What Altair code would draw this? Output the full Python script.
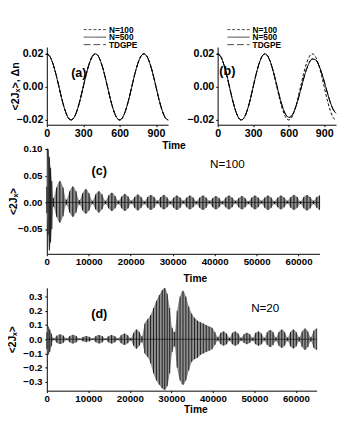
import altair as alt
import pandas as pd

FONT = "Liberation Sans"

# ---------------- panels (a) and (b) ----------------
t_ab = [0, 25, 50, 75, 100, 125, 150, 175, 200, 225, 250, 275, 300, 325, 350, 375, 400,
        425, 450, 475, 500, 525, 550, 575, 600, 625, 650, 675, 700, 725, 750, 775, 800,
        825, 850, 875, 900, 925, 950, 975, 1000]

a_n100 = [0.0200, 0.0185, 0.0141, 0.0077, 0.0000, -0.0077, -0.0141, -0.0185, -0.0200,
          -0.0185, -0.0141, -0.0077, 0.0000, 0.0077, 0.0141, 0.0185, 0.0200,
          0.0185, 0.0141, 0.0077, 0.0000, -0.0077, -0.0141, -0.0185, -0.0200,
          -0.0185, -0.0141, -0.0077, 0.0000, 0.0077, 0.0141, 0.0185, 0.0200,
          0.0185, 0.0141, 0.0077, 0.0000, -0.0077, -0.0141, -0.0185, -0.0200]
a_n500 = [0.0200, 0.0185, 0.0141, 0.0077, 0.0000, -0.0077, -0.0141, -0.0185, -0.0200,
          -0.0185, -0.0141, -0.0077, 0.0000, 0.0077, 0.0141, 0.0185, 0.0200,
          0.0185, 0.0141, 0.0077, 0.0000, -0.0077, -0.0141, -0.0185, -0.0200,
          -0.0185, -0.0141, -0.0077, 0.0000, 0.0077, 0.0141, 0.0185, 0.0200,
          0.0185, 0.0141, 0.0077, 0.0000, -0.0077, -0.0141, -0.0185, -0.0200]
a_tdgpe = [0.0200, 0.0185, 0.0141, 0.0077, 0.0000, -0.0077, -0.0141, -0.0185, -0.0200,
           -0.0185, -0.0141, -0.0077, 0.0000, 0.0077, 0.0141, 0.0185, 0.0200,
           0.0185, 0.0141, 0.0077, 0.0000, -0.0077, -0.0141, -0.0185, -0.0200,
           -0.0185, -0.0141, -0.0077, 0.0000, 0.0077, 0.0141, 0.0185, 0.0200,
           0.0185, 0.0141, 0.0077, 0.0000, -0.0077, -0.0141, -0.0185, -0.0200]

b_n100 = [0.0200, 0.0185, 0.0141, 0.0077, 0.0000, -0.0077, -0.0141, -0.0185, -0.0200,
          -0.0185, -0.0141, -0.0077, 0.0000, 0.0077, 0.0141, 0.0185, 0.0200,
          0.0185, 0.0141, 0.0077, 0.0000, -0.0077, -0.0141, -0.0185, -0.0200,
          -0.0185, -0.0141, -0.0077, 0.0000, 0.0077, 0.0141, 0.0185, 0.0200,
          0.0185, 0.0141, 0.0077, 0.0000, -0.0077, -0.0141, -0.0185, -0.0200]
b_n500 = [0.0200, 0.0185, 0.0141, 0.0077, 0.0000, -0.0077, -0.0141, -0.0185, -0.0200,
          -0.0185, -0.0141, -0.0077, 0.0000, 0.0077, 0.0141, 0.0185, 0.0200,
          0.0184, 0.0141, 0.0080, 0.0008, -0.0064, -0.0125, -0.0167, -0.0184,
          -0.0175, -0.0140, -0.0086, -0.0021, 0.0046, 0.0105, 0.0148, 0.0168,
          0.0165, 0.0138, 0.0092, 0.0033, -0.0031, -0.0090, -0.0135, -0.0160]
b_tdgpe = [0.0200, 0.0185, 0.0141, 0.0077, 0.0000, -0.0077, -0.0141, -0.0185, -0.0200,
           -0.0185, -0.0141, -0.0077, 0.0000, 0.0077, 0.0141, 0.0185, 0.0200,
           0.0184, 0.0141, 0.0080, 0.0008, -0.0064, -0.0125, -0.0168, -0.0185,
           -0.0176, -0.0141, -0.0087, -0.0021, 0.0047, 0.0106, 0.0150, 0.0170,
           0.0166, 0.0139, 0.0092, 0.0033, -0.0031, -0.0091, -0.0136, -0.0161]

SERIES = ["N=100", "N=500", "TDGPE"]
DASHES = [[3, 2], [1, 0], [7, 3]]
x_ticks_ab = [0, 300, 600, 900]
y_ticks_ab = [-0.02, 0.0, 0.02]

# ---------------- panel (c): envelope of <2Jx>, N=100 ----------------
t_c = [0, 300, 600, 900, 1200,
       1550, 2325, 3100, 3875, 4650, 5425, 6200, 6975, 7750, 8525, 9300, 10075,
       10850, 11625, 12400, 13175, 13950, 14725, 15500, 16275, 17050, 17825, 18600, 19375,
       20150, 20925, 21700, 22475, 23250, 24025, 24800, 25575, 26350, 27125, 27900, 28675,
       29450, 30225, 31000, 31775, 32550, 33325, 34100, 34875, 35650, 36425, 37200, 37975,
       38750, 39525, 40300, 41075, 41850, 42625, 43400, 44175, 44950, 45725, 46500, 47275,
       48050, 48825, 49600, 50375, 51150, 51925, 52700, 53475, 54250, 55025, 55800, 56575,
       57350, 58125, 58900, 59675, 60450, 61225, 62000, 62775,
       63550, 64325, 65000]
up_c = [0.030, 0.100, 0.085, 0.065, 0.040,
        0.008, 0.028, 0.040, 0.028, 0.005, 0.021, 0.030, 0.021, 0.004, 0.017, 0.025, 0.017,
        0.003, 0.015, 0.021, 0.015, 0.003, 0.013, 0.018, 0.012, 0.003, 0.011, 0.016, 0.011,
        0.003, 0.010, 0.015, 0.010, 0.002, 0.010, 0.014, 0.010, 0.003, 0.010, 0.014, 0.009,
        0.002, 0.009, 0.013, 0.009, 0.003, 0.009, 0.013, 0.009, 0.002, 0.009, 0.013, 0.009,
        0.003, 0.008, 0.012, 0.008, 0.002, 0.009, 0.013, 0.009, 0.003, 0.008, 0.012, 0.008,
        0.002, 0.009, 0.013, 0.009, 0.003, 0.009, 0.013, 0.009, 0.002, 0.009, 0.013, 0.009,
        0.003, 0.010, 0.014, 0.010, 0.002, 0.010, 0.014, 0.010,
        0.003, 0.010, 0.013]
lo_c = [-0.020, -0.060, -0.090, -0.075, -0.050,
        -0.008, -0.027, -0.038, -0.026, -0.004, -0.019, -0.027, -0.019, -0.004, -0.015, -0.021, -0.015,
        -0.003, -0.013, -0.019, -0.013, -0.003, -0.011, -0.016, -0.011, -0.003, -0.011, -0.016, -0.011,
        -0.002, -0.010, -0.015, -0.010, -0.003, -0.010, -0.014, -0.010, -0.002, -0.009, -0.013, -0.009,
        -0.003, -0.010, -0.014, -0.010, -0.002, -0.009, -0.013, -0.009, -0.003, -0.010, -0.014, -0.010,
        -0.002, -0.009, -0.013, -0.009, -0.003, -0.009, -0.013, -0.009, -0.002, -0.009, -0.013, -0.009,
        -0.003, -0.009, -0.013, -0.009, -0.002, -0.010, -0.014, -0.010, -0.003, -0.009, -0.013, -0.009,
        -0.002, -0.010, -0.014, -0.010, -0.003, -0.011, -0.015, -0.011,
        -0.003, -0.010, -0.014]

# ---------------- panel (d): envelope of <2Jx>, N=20 ----------------
t_d = [0, 300, 700, 1100,
       1600, 2400, 3200, 4000, 4800, 5500, 6300, 7100, 7900, 8700, 9500, 10300,
       11000, 11800, 12600, 13400, 14100, 14800, 15600, 16400, 17100, 17900, 18700, 19500,
       20200, 20900, 21600, 22300, 22900, 23600, 24300, 25000, 25700, 26400, 27100, 27800,
       28400, 29000, 29600, 30200, 30800, 31400, 32100, 32800, 33500, 34200, 34900, 35600,
       36300, 37000, 37700, 38400, 39100, 39800, 40500, 41200, 41900, 42600, 43300, 44000,
       44700, 45400, 46100, 46800, 47500, 48200, 48900, 49600, 50300, 51000, 51700, 52400,
       53100, 53800, 54500, 55200, 55900, 56600, 57300, 58000, 58700, 59400, 60100, 60800,
       61500, 62200, 62900, 63600, 64300, 65000]
up_d = [0.050, 0.090, 0.070, 0.040,
        0.006, 0.025, 0.035, 0.025, 0.005, 0.022, 0.031, 0.022, 0.004, 0.016, 0.022, 0.016,
        0.004, 0.022, 0.030, 0.021, 0.004, 0.021, 0.030, 0.021, 0.005, 0.028, 0.040, 0.028,
        0.008, 0.045, 0.068, 0.050, 0.020, 0.110, 0.140, 0.170, 0.220, 0.270, 0.310, 0.345,
        0.360, 0.320, 0.220, 0.080, 0.050, 0.200, 0.300, 0.340, 0.300, 0.230, 0.180, 0.150,
        0.130, 0.120, 0.110, 0.100, 0.090, 0.080, 0.050, 0.015, 0.045, 0.055, 0.040, 0.010,
        0.045, 0.055, 0.040, 0.010, 0.035, 0.045, 0.035, 0.010, 0.045, 0.055, 0.040, 0.010,
        0.050, 0.065, 0.050, 0.012, 0.050, 0.068, 0.050, 0.012, 0.050, 0.068, 0.050, 0.015,
        0.055, 0.075, 0.055, 0.015, 0.060, 0.075]
lo_d = [-0.070, -0.110, -0.090, -0.050,
        -0.006, -0.024, -0.034, -0.024, -0.005, -0.021, -0.030, -0.021, -0.004, -0.015, -0.021, -0.015,
        -0.004, -0.021, -0.030, -0.021, -0.004, -0.021, -0.030, -0.021, -0.005, -0.028, -0.040, -0.028,
        -0.008, -0.045, -0.066, -0.045, -0.020, -0.100, -0.125, -0.170, -0.240, -0.290, -0.320, -0.345,
        -0.355, -0.330, -0.240, -0.090, -0.050, -0.200, -0.290, -0.320, -0.290, -0.220, -0.160, -0.140,
        -0.130, -0.110, -0.100, -0.090, -0.080, -0.070, -0.040, -0.010, -0.035, -0.045, -0.035, -0.010,
        -0.035, -0.045, -0.035, -0.010, -0.025, -0.035, -0.025, -0.010, -0.035, -0.045, -0.035, -0.010,
        -0.040, -0.055, -0.040, -0.012, -0.045, -0.060, -0.045, -0.012, -0.050, -0.065, -0.050, -0.015,
        -0.055, -0.075, -0.055, -0.015, -0.060, -0.075]

x_ticks_cd = [0, 10000, 20000, 30000, 40000, 50000, 60000]
y_ticks_c = [-0.05, 0.0, 0.05, 0.10]
y_ticks_d = [-0.3, -0.2, -0.1, 0.0, 0.1, 0.2, 0.3]
baseline = [0.0]

TITLE_J = "<2J\u2093>"


def text_layer(s, x, y, size, weight="bold", opacity=1):
    return alt.Chart(pd.DataFrame({"s": [s]})).mark_text(
        font=FONT, fontSize=size, fontWeight=weight, align="center", baseline="middle", color="black",
        opacity=opacity,
    ).encode(x=alt.value(x), y=alt.value(y), text="s:N")


def legend_layers(x0, y0, dy, tdx):
    out = []
    for i, s in enumerate(SERIES):
        one = pd.DataFrame({"s": [s]})
        out.append(alt.Chart(one).mark_rule(color="#444444", strokeWidth=1, strokeDash=DASHES[i]).encode(
            x=alt.value(x0), x2=alt.value(x0 + 23), y=alt.value(y0 + i * dy)))
        out.append(alt.Chart(one).mark_text(font=FONT, fontSize=8.5, fontWeight="bold", align="left",
                                            baseline="middle", color="black").encode(
            x=alt.value(x0 + tdx), y=alt.value(y0 + i * dy), text="s:N"))
    return out


def top_panel(vals, w, ytitle, label, lxy, legxy):
    rows = []
    for name, v in zip(SERIES, vals):
        for ti, vi in zip(t_ab, v):
            rows.append({"t": ti, "v": vi, "series": name})
    df = pd.DataFrame(rows)
    if ytitle:
        yax = alt.Axis(values=y_ticks_ab, format=".2f", labelFontSize=11, tickSize=2, labelPadding=2,
                       labelOverlap=False, title=ytitle, titleFontSize=11, titleX=-27, titleY=40)
    else:
        yax = alt.Axis(values=y_ticks_ab, format=".2f", labelFontSize=11, tickSize=2, labelPadding=2,
                       labelOverlap=False, title=None)
    lines = alt.Chart(df).mark_line(strokeWidth=1, interpolate="monotone", color="black").encode(
        x=alt.X("t:Q", scale=alt.Scale(domain=[0, 1000], nice=False),
                axis=alt.Axis(values=x_ticks_ab, title=None, labelFontSize=11, tickSize=2, labelPadding=1,
                              labelFlush=False, labelOverlap=False)),
        y=alt.Y("v:Q", scale=alt.Scale(domain=[-0.0229, 0.0241], nice=False, zero=False), axis=yax),
        strokeDash=alt.StrokeDash("series:N", scale=alt.Scale(domain=SERIES, range=DASHES), legend=None),
    )
    layers = [lines] + legend_layers(legxy[0], legxy[1], 7.75, 26) + [text_layer(label, lxy[0], lxy[1], 13)]
    return alt.layer(*layers).properties(width=w, height=80)


def bottom_panel(t, up, lo, w, h, ydom, yticks, yfmt, titleX, label, lxy, ntext, nxy, rule_w,
                 time_xy, xtitle_x, spacer_y=None):
    df = pd.DataFrame({"t": t, "up": up, "lo": lo})
    xs = alt.Scale(domain=[0, 65000], nice=False)
    ys = alt.Scale(domain=ydom, nice=False, zero=False)
    if xtitle_x is None:
        xax = alt.Axis(values=x_ticks_cd, format="d", title=None, labelFontSize=10,
                       tickSize=2, labelPadding=1, labelFlush=False, labelOverlap=False)
    else:
        xax = alt.Axis(values=x_ticks_cd, format="d", title="Time", labelFontSize=10, titleFontSize=10.5,
                       tickSize=2, labelPadding=1, titlePadding=2, titleX=xtitle_x, labelFlush=False,
                       labelOverlap=False)
    yax = alt.Axis(values=yticks, format=yfmt, labelFontSize=10, tickSize=2, labelPadding=3,
                   labelOverlap=False, title=TITLE_J, titleFontSize=10.5, titleX=titleX, titleY=h / 2)
    area = alt.Chart(df).mark_area(color="#909090", interpolate="monotone").encode(
        x=alt.X("t:Q", scale=xs, axis=xax),
        y=alt.Y("up:Q", scale=ys, axis=yax),
        y2="lo:Q",
    )
    zero = alt.Chart(pd.DataFrame({"y": baseline})).mark_rule(color="#222222", strokeWidth=0.8).encode(
        y=alt.Y("y:Q", scale=ys, axis=yax))
    rules = alt.Chart(df).mark_rule(color="black", strokeWidth=rule_w).encode(
        x=alt.X("t:Q", scale=xs, axis=xax), y=alt.Y("up:Q", scale=ys, axis=yax), y2="lo:Q")
    layers = [area, zero, rules,
              text_layer("Time", time_xy[0], time_xy[1], 10.5),
              text_layer(label, lxy[0], lxy[1], 13),
              text_layer(ntext, nxy[0], nxy[1], 12, "normal")]
    if spacer_y is not None:
        layers.append(text_layer("Time", time_xy[0], spacer_y, 10.5, opacity=0))
    return alt.layer(*layers).properties(width=w, height=h)


pa = top_panel([a_n100, a_n500, a_tdgpe], 125, "<2J\u2093>, \u0394n", "(a)", (33, 27), (38, -18))
pb = top_panel([b_n100, b_n500, b_tdgpe], 122, None, "(b)", (10, 25), (10, -18))
# "Time" under the top row sits just above panel (c); "Time" under (c) sits just above (d)
pc = bottom_panel(t_c, up_c, lo_c, 281, 109, [-0.0964, 0.102], y_ticks_c, ".2f", -29,
                  "(c)", (54, 24), "N=100", (186, 17), 0.9, (131, -2), None)
pdd = bottom_panel(t_d, up_d, lo_d, 278, 106, [-0.361, 0.361], y_ticks_d, ".1f", -30,
                   "(d)", (54, 27), "N=20", (225, 21), 0.8, (153, -9), 153, spacer_y=-14)

row1 = alt.hconcat(pa, pb, spacing=17)
chart = alt.vconcat(row1, pc, pdd, spacing=3,
                    padding={"left": 0, "top": 12, "right": 0, "bottom": 0})
chart = chart.configure_view(stroke=None).configure_axis(
    grid=False, domainColor="black", domainWidth=1, tickColor="black",
    labelFont=FONT, titleFont=FONT, labelFontWeight="bold", titleFontWeight="bold",
    labelColor="black", titleColor="black",
)

chart.save("out.html", embed_options={"renderer": "svg", "actions": False})
